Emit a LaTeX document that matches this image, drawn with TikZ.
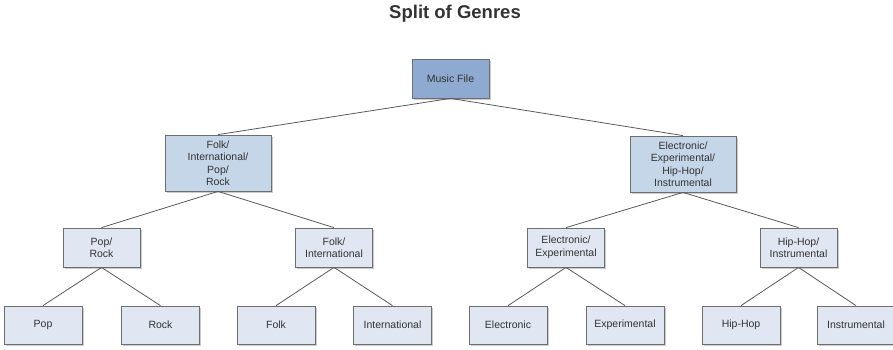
\documentclass[tikz,border=0pt]{standalone}
\usepackage{fontspec}
\setmainfont{Liberation Sans}
\usetikzlibrary{shadows}
\definecolor{rootfill}{HTML}{8EAAD0}
\definecolor{midfill}{HTML}{C6D6E9}
\definecolor{leaffill}{HTML}{E1E7F2}
\definecolor{boxline}{HTML}{6E6E6E}
\definecolor{txt}{HTML}{333333}
\definecolor{edgec}{HTML}{5A5A5A}
\tikzset{
  gbox/.style={draw=boxline, line width=0.8pt, text=txt, align=center, inner sep=0pt,
    font=\fontsize{10.5}{12.5}\selectfont,
    drop shadow={shadow xshift=1.5pt, shadow yshift=-1.5pt, fill=black!40, opacity=0.5}},
  rootbox/.style={gbox, fill=rootfill, minimum width=77pt, minimum height=39pt},
  midbox/.style={gbox, fill=midfill, minimum width=106pt, minimum height=56pt},
  lowbox/.style={gbox, fill=leaffill, minimum width=77pt, minimum height=39pt},
  leafbox/.style={gbox, fill=leaffill, minimum width=78pt, minimum height=38pt},
  conn/.style={draw=edgec, line width=0.8pt}
}
\begin{document}
\begin{tikzpicture}[x=1pt,y=-1pt]
\useasboundingbox (0,0) rectangle (893,349);
\node[font=\fontsize{18.5}{22}\selectfont\bfseries, text=txt] (title) at (455,14) {Split of Genres};

\node[rootbox] (root) at (450.5,78.5) {Music File};

\node[midbox] (fipr) at (218,163) {Folk/\\International/\\Pop/\\Rock};
\node[midbox] (eehi) at (683,164) {Electronic/\\Experimental/\\Hip-Hop/\\Instrumental};

\node[lowbox] (pr) at (101.5,247.5) {Pop/\\Rock};
\node[lowbox] (fi) at (334,247.5) {Folk/\\International};
\node[lowbox] (ee) at (566,247.5) {Electronic/\\Experimental};
\node[lowbox] (hi) at (798.5,247.5) {Hip-Hop/\\Instrumental};

\node[leafbox] (pop) at (43,325) {Pop};
\node[leafbox] (rock) at (160.5,325) {Rock};
\node[leafbox] (folk) at (276,325) {Folk};
\node[leafbox] (intl) at (392.5,325) {International};
\node[leafbox] (elec) at (508,325) {Electronic};
\node[leafbox] (expe) at (625,325) {Experimental};
\node[leafbox] (hiph) at (741,325) {Hip-Hop};
\node[leafbox] (inst) at (856,325) {Instrumental};

\draw[conn] (root.south) -- (fipr.north);
\draw[conn] (root.south) -- (eehi.north);
\draw[conn] (fipr.south) -- (pr.north);
\draw[conn] (fipr.south) -- (fi.north);
\draw[conn] (eehi.south) -- (ee.north);
\draw[conn] (eehi.south) -- (hi.north);
\draw[conn] (pr.south) -- (pop.north);
\draw[conn] (pr.south) -- (rock.north);
\draw[conn] (fi.south) -- (folk.north);
\draw[conn] (fi.south) -- (intl.north);
\draw[conn] (ee.south) -- (elec.north);
\draw[conn] (ee.south) -- (expe.north);
\draw[conn] (hi.south) -- (hiph.north);
\draw[conn] (hi.south) -- (inst.north);
\end{tikzpicture}
\end{document}
